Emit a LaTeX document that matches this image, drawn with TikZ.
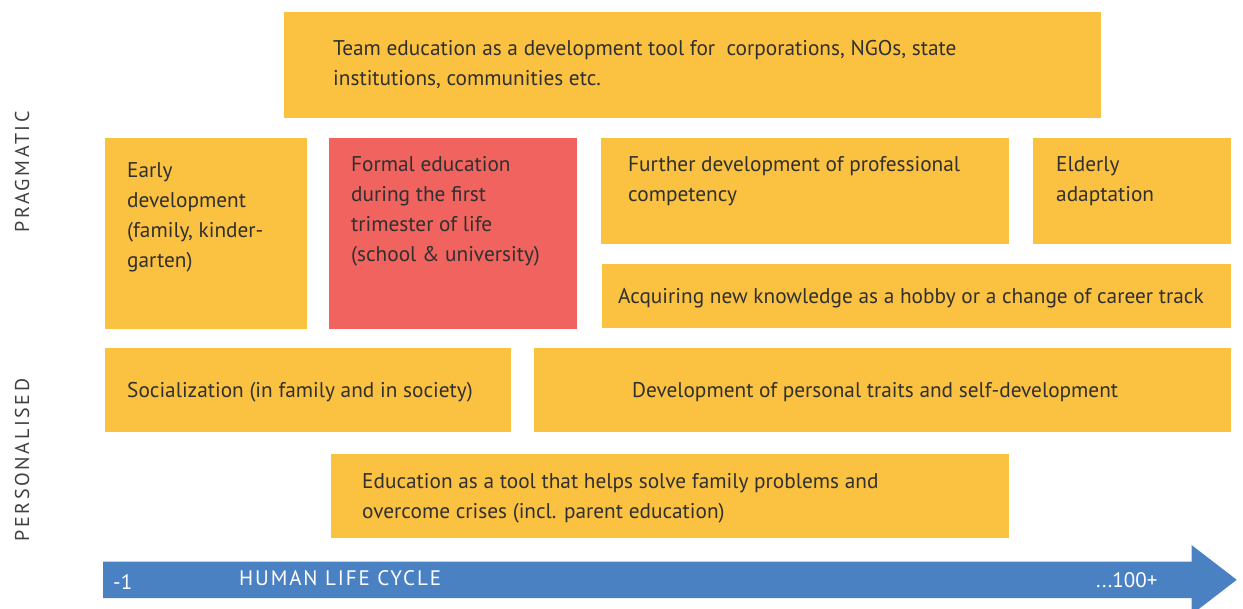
\documentclass[tikz,border=0pt]{standalone}
\usepackage{fontspec}
\setmainfont{PT Sans}
\definecolor{yel}{HTML}{FBC141}
\definecolor{redb}{HTML}{F0635F}
\definecolor{blu}{HTML}{4A81C3}
\definecolor{ink}{HTML}{303030}
\definecolor{sidegray}{HTML}{404040}
\begin{document}
\begin{tikzpicture}[x=1pt,y=-1pt,
  box/.style={fill=yel, draw=none, inner sep=0, anchor=north west},
  redbox/.style={box, fill=redb},
  txt/.style={text=ink, font=\fontsize{21.3}{30}\selectfont, align=left, inner sep=0, anchor=west},
  side/.style={text=sidegray, font=\fontsize{20}{22}\selectfont\addfontfeature{LetterSpace=13}, rotate=90, inner sep=0},
  arrtxt/.style={text=white, font=\fontsize{21}{22}\selectfont, inner sep=0, anchor=west}]
\useasboundingbox (0,0) rectangle (1243,609);
% boxes
\node[box, minimum width=817pt, minimum height=106pt] (team) at (284,12) {};
\node[box, minimum width=202pt, minimum height=191pt] (early) at (105,138) {};
\node[redbox, minimum width=248pt, minimum height=191pt] (formal) at (329,138) {};
\node[box, minimum width=408pt, minimum height=106pt] (further) at (601,138) {};
\node[box, minimum width=198pt, minimum height=106pt] (elderly) at (1033,138) {};
\node[box, minimum width=629pt, minimum height=64pt] (hobby) at (602,264) {};
\node[box, minimum width=406pt, minimum height=84pt] (social) at (105,348) {};
\node[box, minimum width=697pt, minimum height=84pt] (personal) at (534,348) {};
\node[box, minimum width=678pt, minimum height=84pt] (family) at (331,454) {};
% texts
\node[txt] (teamt) at (333,65) {Team education as a development tool for\ \ corporations, NGOs, state\\institutions, communities etc.};
\node[txt] (earlyt) at (127,217.5) {Early\\development\\(family, kinder-\\garten)};
\node[txt] (formalt) at (351,211) {Formal education\\during the first\\trimester of life\\(school \& university)};
\node[txt] (furthert) at (628,181) {Further development of professional\\competency};
\node[txt] (elderlyt) at (1056,181) {Elderly\\adaptation};
\node[txt] (hobbyt) at (618,298) {Acquiring new knowledge as a hobby or a change of career track};
\node[txt] (socialt) at (127,392) {Socialization (in family and in society)};
\node[txt] (personalt) at (632,392) {Development of personal traits and self-development};
\node[txt] (familyt) at (362,498) {Education as a tool that helps solve family problems and\\overcome crises (incl. parent education)};
% side labels
\node[side] (prag) at (22,172) {PRAGMATIC};
\node[side] (pers) at (22,460) {PERSONALISED};
% arrow
\fill[blu] (103,561.5) -- (1191.5,561.5) -- (1191.5,545) -- (1236.7,579.8) -- (1191.5,614.6) -- (1191.5,598) -- (103,598) -- cycle;
\node[arrtxt] (start) at (113,582) {-1};
\node[arrtxt, font=\fontsize{21}{22}\selectfont\addfontfeature{LetterSpace=9}] (cycle) at (239,578) {HUMAN LIFE CYCLE};
\node[arrtxt] (end) at (1096,580) {...100+};
\end{tikzpicture}
\end{document}
